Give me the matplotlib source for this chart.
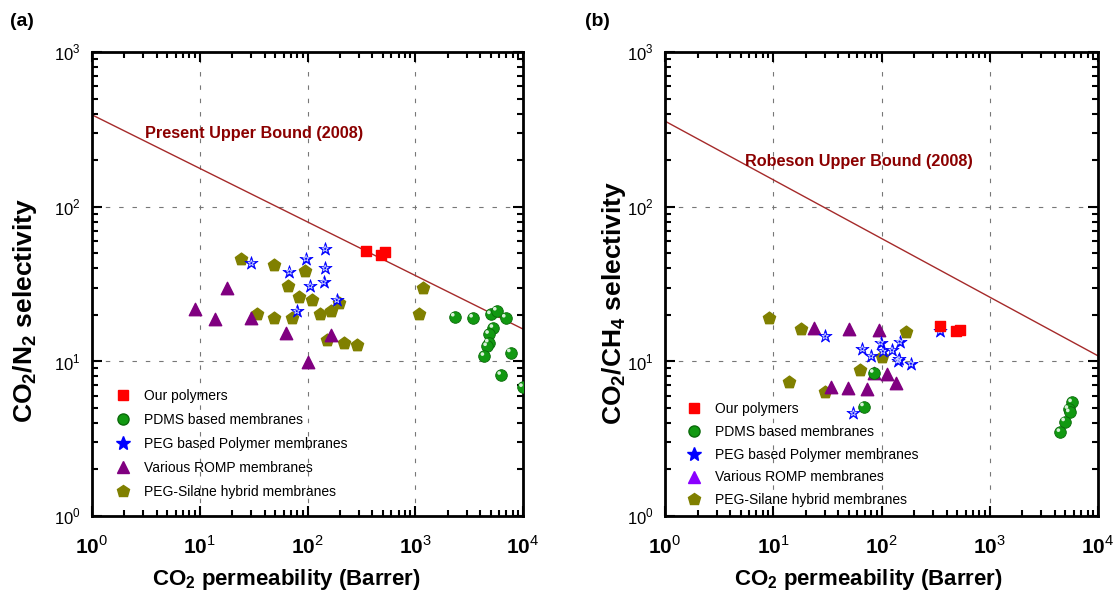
import numpy as np
import matplotlib
matplotlib.use("Agg")
import matplotlib.pyplot as plt
import matplotlib.transforms as mtransforms
from matplotlib.ticker import FuncFormatter, LogLocator, NullFormatter
from matplotlib.lines import Line2D

plt.rcParams['font.family'] = ['Liberation Sans', 'DejaVu Sans']
plt.rcParams['mathtext.fontset'] = 'custom'
plt.rcParams['mathtext.rm'] = 'Liberation Sans'
plt.rcParams['mathtext.bf'] = 'Liberation Sans:bold'

# ---------------- Data: panel (a) CO2/N2 ----------------
a_our_x = [350, 479, 522]
a_our_y = [51.5, 48.6, 51.0]
a_pdms_x = [2330, 3450, 5040, 5720, 6930, 5320, 4850, 4820, 4650, 4390, 7720, 6280, 10000]
a_pdms_y = [19.4, 19.1, 20.1, 21.2, 19.1, 16.4, 15.0, 13.2, 12.5, 10.8, 11.4, 8.15, 6.8]
a_peg_x = [30.1, 68, 97, 146, 146, 141, 106, 187, 79.5]
a_peg_y = [43.1, 38, 46.1, 53.3, 40, 32.6, 30.7, 24.9, 21.1]
a_romp_x = [9.1, 13.8, 18.0, 29.9, 63.7, 164, 102]
a_romp_y = [21.7, 18.9, 29.7, 19.2, 15.3, 14.8, 9.9]
a_sil_x = [24.0, 49.3, 95, 66.5, 84, 111, 33.8, 49, 72.4, 131, 164, 194, 151, 220, 290, 1184, 1072]
a_sil_y = [45.7, 42, 38.4, 30.9, 25.9, 24.9, 20.1, 19.2, 19.1, 20.2, 21.1, 23.9, 13.8, 13.1, 12.8, 29.9, 20.1]

# ---------------- Data: panel (b) CO2/CH4 ----------------
b_our_x = [348, 484, 533]
b_our_y = [16.9, 15.7, 16.0]
b_pdms_x = [69, 84.9, 5770, 5340, 5490, 4980, 4500]
b_pdms_y = [5.1, 8.4, 5.42, 4.91, 4.67, 4.08, 3.48]
b_peg_x = [30.2, 66.6, 80.2, 97.9, 103, 125, 147, 141, 187, 55, 348, 145]
b_peg_y = [14.5, 12.0, 10.8, 13.2, 11.6, 11.8, 13.4, 10.1, 9.66, 4.62, 15.8, 10.3]
b_romp_x = [24.0, 49.7, 95.8, 84.9, 112, 135, 34.3, 48.7, 73]
b_romp_y = [16.5, 16.2, 15.9, 8.4, 8.3, 7.24, 6.78, 6.72, 6.62]
b_sil_x = [9.2, 18.2, 168, 63.8, 100.7, 14.0, 30.0]
b_sil_y = [19.1, 16.2, 15.4, 8.8, 10.7, 7.35, 6.29]

# Robeson 2008 upper bound parameters (P = k * alpha^n)
a_bound_k, a_bound_n = 30967000, -2.888
b_bound_k, b_bound_n = 5369140, -2.636

legend_labels = ["Our polymers", "PDMS based membranes", "PEG based Polymer membranes",
                 "Various ROMP membranes", "PEG-Silane hybrid membranes"]

RED = '#ff0000'
GREEN = '#119911'
BLUE = '#0000ff'
PURPLE = '#800080'
OLIVE = '#808000'
BOUND = '#a52a2a'

fig = plt.figure(figsize=(11.13, 5.92), dpi=100)
axA = fig.add_axes([92/1113, 76/592, 431/1113, 464/592])
axB = fig.add_axes([665/1113, 76/592, 433/1113, 464/592])


def xfmt(v, pos):
    e = int(round(np.log10(v)))
    return r'$\mathbf{10}^{%d}$' % e


def yfmt(v, pos):
    e = int(round(np.log10(v)))
    return r'$10^{%d}$' % e


def setup(ax, ylabel, xlab_x, ylab_x, ylab_y):
    ax.set_xscale('log')
    ax.set_yscale('log')
    ax.set_xlim(1, 1e4)
    ax.set_ylim(1, 1e3)
    for s in ax.spines.values():
        s.set_linewidth(2.0)
    ax.xaxis.set_major_locator(LogLocator(base=10, numticks=10))
    ax.yaxis.set_major_locator(LogLocator(base=10, numticks=10))
    ax.xaxis.set_minor_locator(LogLocator(base=10, subs=np.arange(2, 10), numticks=10))
    ax.yaxis.set_minor_locator(LogLocator(base=10, subs=np.arange(2, 10), numticks=10))
    ax.xaxis.set_major_formatter(FuncFormatter(xfmt))
    ax.yaxis.set_major_formatter(FuncFormatter(yfmt))
    ax.xaxis.set_minor_formatter(NullFormatter())
    ax.yaxis.set_minor_formatter(NullFormatter())
    ax.tick_params(which='both', direction='in', top=True, right=True, width=1.5)
    ax.tick_params(which='major', length=7)
    ax.tick_params(which='minor', length=4)
    ax.tick_params(axis='x', which='major', labelsize=15, pad=14)
    ax.tick_params(axis='y', which='major', labelsize=12, pad=8)
    ax.grid(True, which='major', color='#777777', linestyle=(0, (4, 8)), linewidth=0.8)
    ax.set_xlabel(r'$\mathbf{CO_2}$ permeability (Barrer)', fontsize=16, fontweight='bold')
    ax.set_ylabel(ylabel, fontsize=19, fontweight='bold')
    ax.xaxis.set_label_coords(xlab_x, -0.11)
    ax.yaxis.set_label_coords(ylab_x, ylab_y)


def draw(ax, our, pdms, peg, romp, sil, bound, btext, bxy, legend_tri_color, leg_anchor, lspace):
    xs = np.logspace(0, 4, 100)
    k, n = bound
    ax.plot(xs, (xs / k) ** (1.0 / n), color=BOUND, lw=1.0, zorder=2)
    ax.text(bxy[0], bxy[1], btext, color='#8b0000', fontsize=11.7, fontweight='bold',
            va='center', transform=ax.transAxes, zorder=3)
    ax.scatter(sil[0], sil[1], marker='p', s=85, color=OLIVE, edgecolors=OLIVE, zorder=4)
    ax.scatter(romp[0], romp[1], marker='^', s=80, color=PURPLE, edgecolors=PURPLE, zorder=5)
    ax.scatter(peg[0], peg[1], marker='*', s=100, color=BLUE, edgecolors=BLUE, linewidths=0.5, zorder=6)
    ax.scatter(peg[0], peg[1], marker='*', s=22, facecolors='none', edgecolors='#cfd8ff',
               linewidths=0.6, zorder=6.5)
    ax.scatter(pdms[0], pdms[1], marker='o', s=70, color=GREEN, edgecolors='#0a6a0a', linewidths=0.6, zorder=5)
    hl = ax.transData + mtransforms.ScaledTranslation(-1.5/72, 1.5/72, fig.dpi_scale_trans)
    ax.scatter(pdms[0], pdms[1], marker='o', s=7, color='#d8f0d8', edgecolors='none', zorder=5.5,
               transform=hl)
    ax.scatter(our[0], our[1], marker='s', s=60, color=RED, edgecolors=RED, zorder=7)
    handles = [
        Line2D([], [], ls='none', marker='s', ms=7, color=RED),
        Line2D([], [], ls='none', marker='o', ms=8, color=GREEN, mec='#0a6a0a'),
        Line2D([], [], ls='none', marker='*', ms=10, color=BLUE),
        Line2D([], [], ls='none', marker='^', ms=9, color=legend_tri_color),
        Line2D([], [], ls='none', marker='p', ms=9, color=OLIVE),
    ]
    ax.legend(handles, legend_labels, loc='lower left', bbox_to_anchor=leg_anchor,
              frameon=False, fontsize=10, handletextpad=0.9, labelspacing=lspace,
              handlelength=1.2, borderaxespad=0.0)


setup(axA, r'$\mathbf{CO_2/N_2}$ selectivity', 0.45, -0.123, 0.442)
setup(axB, r'$\mathbf{CO_2/CH_4}$ selectivity', 0.469, -0.085, 0.46)

draw(axA, (a_our_x, a_our_y), (a_pdms_x, a_pdms_y), (a_peg_x, a_peg_y),
     (a_romp_x, a_romp_y), (a_sil_x, a_sil_y), (a_bound_k, a_bound_n),
     'Present Upper Bound (2008)', (0.123, 0.825), PURPLE, (0.04, 0.024), 0.72)
draw(axB, (b_our_x, b_our_y), (b_pdms_x, b_pdms_y), (b_peg_x, b_peg_y),
     (b_romp_x, b_romp_y), (b_sil_x, b_sil_y), (b_bound_k, b_bound_n),
     'Robeson Upper Bound (2008)', (0.185, 0.763), '#8a00ff', (0.035, 0.007), 0.63)

fig.text(10/1113, 1 - 26/592, '(a)', fontsize=14, fontweight='bold')
fig.text(585/1113, 1 - 26/592, '(b)', fontsize=14, fontweight='bold')

fig.savefig('out.png', dpi=100)
